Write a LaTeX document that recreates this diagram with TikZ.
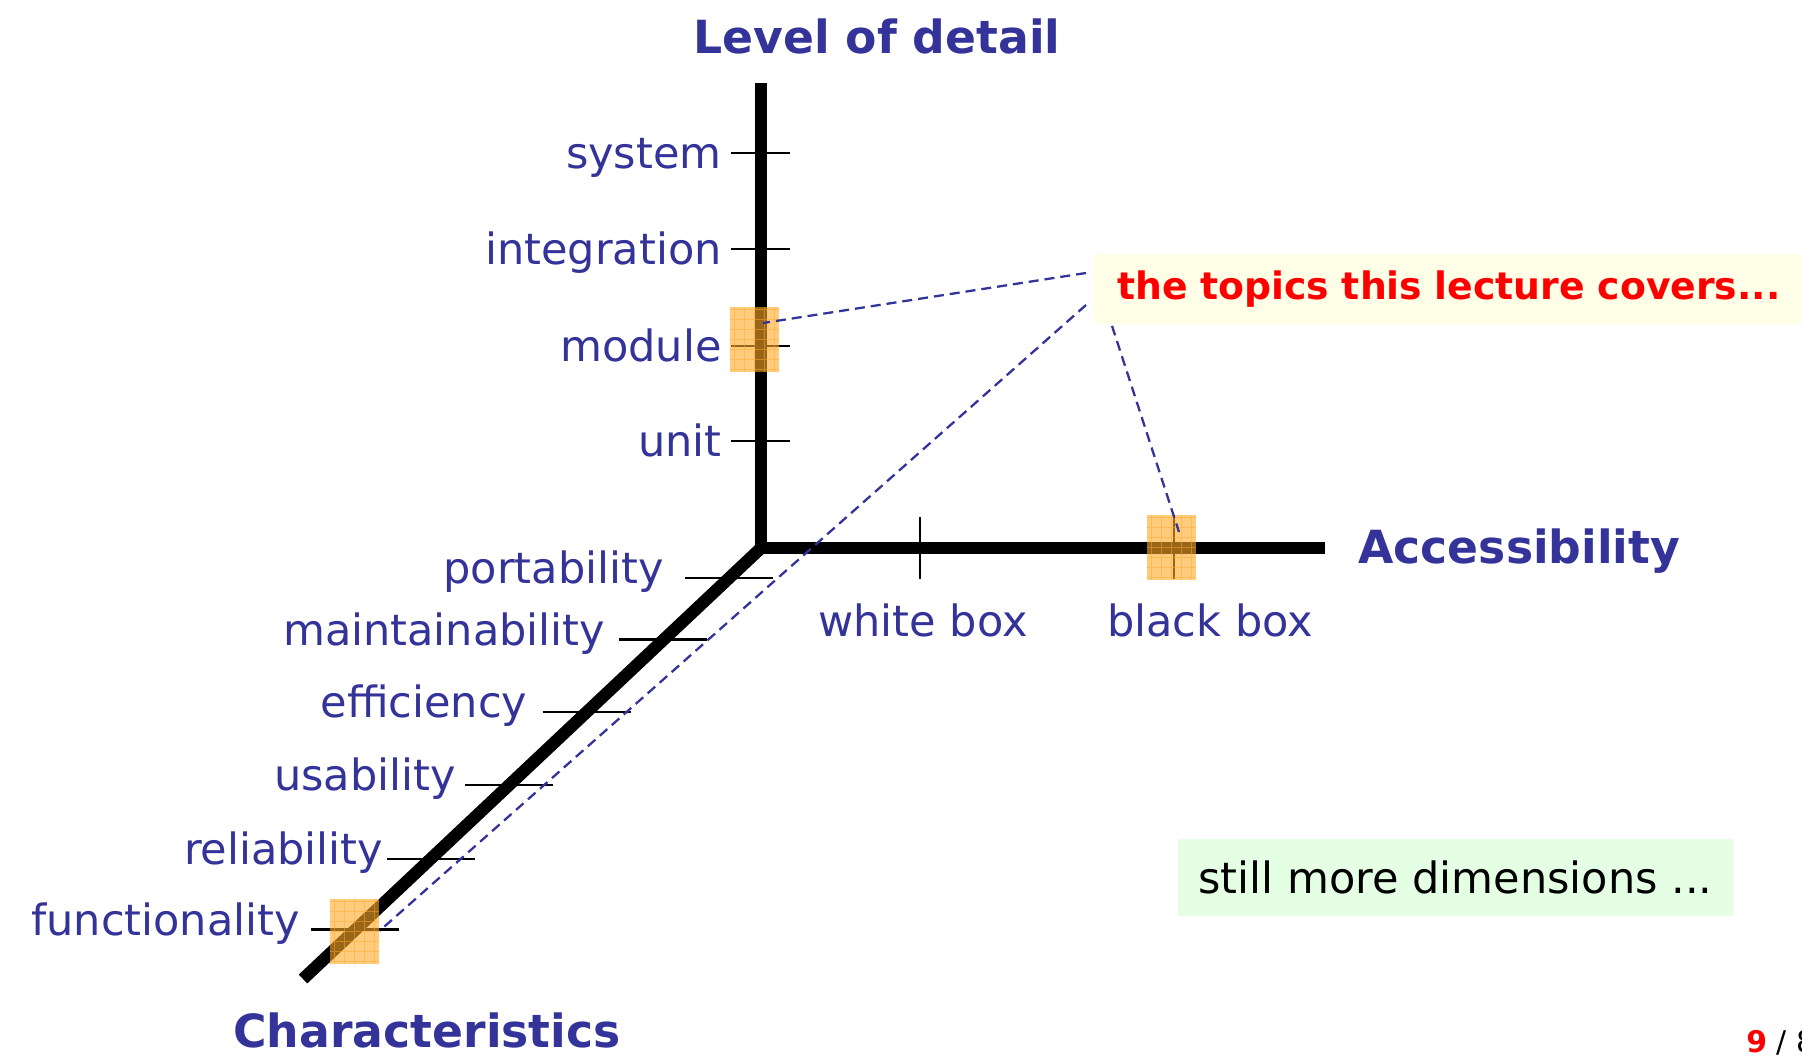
\documentclass[tikz,border=0pt]{standalone}
\usepackage{fontspec}
\setmainfont{DejaVu Sans}
\usepackage{xcolor}
\usepackage{tikz}
\usetikzlibrary{calc, positioning}
\definecolor{axisblue}{RGB}{51,51,153}
\definecolor{topicred}{RGB}{255,0,0}
\definecolor{noteyellow}{RGB}{255,255,232}
\definecolor{notegreen}{RGB}{228,255,228}
\definecolor{marker}{RGB}{255,170,40}
\tikzset{
  axis/.style={line width=7pt},
  tickmark/.style={line width=1.6pt},
  lbl/.style={text=axisblue, inner sep=0pt, font=\fontsize{24.5}{28}\selectfont},
  axislbl/.style={text=axisblue, inner sep=0pt, font=\fontsize{26}{30}\selectfont\bfseries},
  hilite/.style={
    fill=marker, fill opacity=0.6, minimum width=0.98cm, minimum height=1.3cm, inner sep=0pt,
    path picture={\draw[marker, draw opacity=0.5, line width=0.3pt]
      (path picture bounding box.south west) grid[step=0.2cm] (path picture bounding box.north east);}
  },
  pointer/.style={draw=axisblue, line width=1.3pt, dash pattern=on 5.7pt off 3.4pt},
  topicnote/.style={fill=noteyellow, text=topicred, anchor=west, inner xsep=0.46cm,
    minimum height=1.42cm, text width=13.3cm, font=\fontsize{21.5}{25}\selectfont\bfseries},
  morenote/.style={fill=notegreen, minimum width=11.1cm, minimum height=1.54cm,
    font=\fontsize{24.5}{28}\selectfont},
}
\begin{document}
\begin{tikzpicture}[x=0.02cm, y=-0.02cm]
  \useasboundingbox (0,0) rectangle (1802,1055);
  \coordinate (O) at (761,548);
  \coordinate (top) at (761,83);
  \coordinate (right) at (1325,548);
  \coordinate (low) at (303,979);
  \draw[axis] (top) -- (O) -- (right);
  \draw[axis] (O) -- (low);

  \foreach \name/\y in {system/153, integration/249, module/346, unit/441} {
    \draw[tickmark] (731,\y) -- (790,\y);
    \node[lbl, anchor=mid east] (\name) at (722,\y+11) {\name};
  }
  \foreach \f in {0.0696, 0.213, 0.3805, 0.550, 0.7216, 0.886}
    \draw[tickmark] ($(O)!\f!(low)+(-44,0)$) -- ($(O)!\f!(low)+(44,0)$);
  \foreach \name/\f/\dx in {portability/0.0696/-65, maintainability/0.213/-58,
                            efficiency/0.3805/-59, usability/0.550/-53,
                            reliability/0.7216/-47, functionality/0.886/-55}
    \node[lbl, anchor=mid east] (\name) at ($(O)!\f!(low)+(\dx,1)$) {\name};
  \draw[tickmark] (920,517) -- (920,579);
  \draw[tickmark] (1174,517) -- (1174,579);
  \node[lbl] (whitebox) at (923,620) {white box};
  \node[lbl] (blackbox) at (1210,620) {black box};

  \node[axislbl, anchor=base] (detail) at (877,53) {Level of detail};
  \node[axislbl, anchor=base west] (access) at (1358,563) {Accessibility};
  \node[axislbl, anchor=base west] (charact) at (233,1047) {Characteristics};

  \node[hilite] (hlmodule) at (754.5,339.5) {};
  \node[hilite] (hlblack) at (1171.5,547.5) {};
  \node[hilite] (hlfunc) at (354.5,931) {};

  \node[topicnote] (topics) at (1094,289) {the topics this lecture covers...};
  \draw[pointer] ($(topics.west)+(-8,-16)$) -- ($(hlmodule.center)+(8.5,-16.5)$);
  \draw[pointer] ($(topics.west)+(-8,16)$) -- (hlfunc.east);
  \draw[pointer] ($(topics.south west)+(18,1)$) -- ($(hlblack.center)+(7.5,-15.5)$);

  \node[morenote] (more) at (1455.5,877.5) {still more dimensions ...};
  \node[anchor=base west, inner sep=0pt, font=\fontsize{17}{20}\selectfont] (page)
    at (1746,1052) {\textcolor{topicred}{\textbf{9}} / 8};
\end{tikzpicture}
\end{document}
